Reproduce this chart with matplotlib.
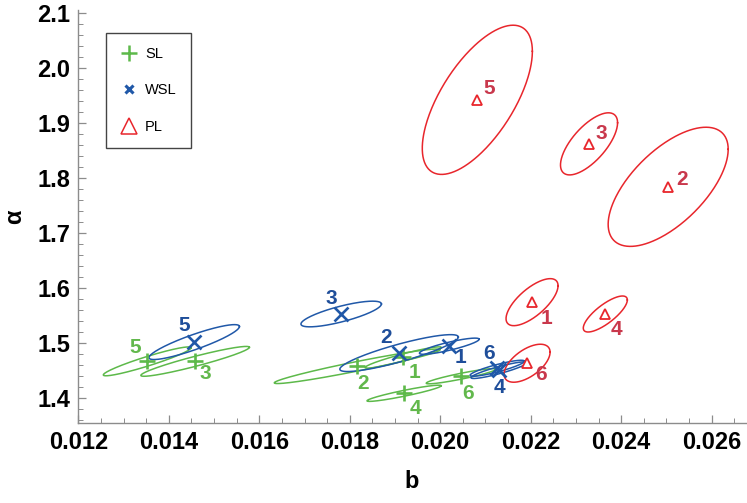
import numpy as np
import matplotlib
matplotlib.use("Agg")
import matplotlib.pyplot as plt
from matplotlib.ticker import MultipleLocator, FormatStrFormatter

plt.rcParams['font.family'] = ['Liberation Sans', 'DejaVu Sans']

# point estimates (b, alpha) and confidence-region extents for each model
ids = ['1', '2', '3', '4', '5', '6']

sl_b = [0.01918, 0.01816, 0.01458, 0.01920, 0.01352, 0.02046]
sl_alpha = [1.474, 1.458, 1.467, 1.409, 1.467, 1.440]
sl_sb = [0.00084, 0.00183, 0.00120, 0.00082, 0.00097, 0.00077]
sl_sa = [0.0193, 0.0313, 0.0271, 0.0147, 0.0262, 0.0138]
sl_rho = [0.94, 0.96, 0.94, 0.93, 0.94, 0.92]

wsl_b = [0.02020, 0.01909, 0.01781, 0.02130, 0.01456, 0.02126]
wsl_alpha = [1.4945, 1.482, 1.553, 1.451, 1.502, 1.4545]
wsl_sb = [0.00066, 0.00131, 0.00089, 0.00062, 0.00100, 0.00060]
wsl_sa = [0.0147, 0.0335, 0.0233, 0.0151, 0.0317, 0.0145]
wsl_rho = [0.86, 0.87, 0.78, 0.90, 0.89, 0.88]

pl_b = [0.02203, 0.02504, 0.02329, 0.02365, 0.02082, 0.02192]
pl_alpha = [1.5745, 1.784, 1.862, 1.553, 1.942, 1.4636]
pl_sb = [0.000575, 0.001327, 0.000631, 0.000487, 0.001217, 0.000509]
pl_sa = [0.0427, 0.1082, 0.0564, 0.0327, 0.1355, 0.0345]
pl_rho = [0.70, 0.63, 0.68, 0.78, 0.65, 0.58]

# label offsets in pixels (dx right, dy down)
sl_off = [(11, 15), (6, 17), (10, 12), (11, 15), (-12, -14), (7, 17)]
wsl_off = [(11, 11), (-13, -16), (-10, -16), (0, 17), (-10, -17), (-8, -15)]
pl_off = [(14, 16), (14, -7), (12, -10), (11, 15), (12, -11), (14, 11)]

green, green_txt = '#5db94a', '#62b84c'
blue, blue_txt = '#2058a8', '#1f4e9a'
red, red_txt = '#e8262c', '#c9384c'

fig = plt.figure(figsize=(7.47, 5.03), dpi=100)
ax = fig.add_axes([0.105, 0.159, 0.893, 0.821])

t = np.linspace(0, 2 * np.pi, 300)


def draw_group(bs, als, sbs, sas, rhos, offs, col, txtcol, marker, ms, mew, mfc):
    for i in range(len(bs)):
        x = bs[i] + sbs[i] * np.cos(t)
        y = als[i] + sas[i] * (rhos[i] * np.cos(t) + np.sqrt(1 - rhos[i] ** 2) * np.sin(t))
        ax.plot(x, y, color=col, lw=1.1, zorder=2)
    ax.plot(bs, als, ls='none', marker=marker, ms=ms, mew=mew, color=col,
            mfc=mfc, zorder=3)
    for i in range(len(bs)):
        ax.annotate(ids[i], (bs[i], als[i]), xytext=(offs[i][0], -offs[i][1]),
                    textcoords='offset pixels', ha='center', va='center',
                    fontsize=15, fontweight='bold', color=txtcol, zorder=4)


draw_group(sl_b, sl_alpha, sl_sb, sl_sa, sl_rho, sl_off, green, green_txt, '+', 12, 1.9, green)
draw_group(wsl_b, wsl_alpha, wsl_sb, wsl_sa, wsl_rho, wsl_off, blue, blue_txt, 'x', 10, 1.9, blue)
draw_group(pl_b, pl_alpha, pl_sb, pl_sa, pl_rho, pl_off, red, red_txt, '^', 7.5, 1.3, 'white')

ax.set_xlim(0.012, 0.02675)
ax.set_ylim(1.355, 2.105)
ax.xaxis.set_major_locator(MultipleLocator(0.002))
ax.xaxis.set_minor_locator(MultipleLocator(0.0005))
ax.yaxis.set_major_locator(MultipleLocator(0.1))
ax.yaxis.set_minor_locator(MultipleLocator(0.02))
ax.xaxis.set_major_formatter(FormatStrFormatter('%.3f'))
ax.yaxis.set_major_formatter(FormatStrFormatter('%.1f'))

for s in ['top', 'right']:
    ax.spines[s].set_visible(False)
for s in ['left', 'bottom']:
    ax.spines[s].set_color('#8c8c8c')
    ax.spines[s].set_linewidth(1.0)
ax.tick_params(which='both', direction='in', color='#8c8c8c')
ax.tick_params(which='major', length=6, width=0.9, labelsize=17, pad=6)
ax.tick_params(which='minor', length=3.5, width=0.7)
for lab in ax.get_xticklabels() + ax.get_yticklabels():
    lab.set_fontweight('bold')

ax.set_xlabel('b', fontsize=17, fontweight='bold', labelpad=11)
ax.set_ylabel('α', fontsize=17, fontweight='bold', labelpad=8)

h1, = ax.plot([], [], ls='none', marker='+', ms=11, mew=1.8, color=green)
h2, = ax.plot([], [], ls='none', marker='x', ms=6, mew=2.2, color=blue)
h3, = ax.plot([], [], ls='none', marker='^', ms=12, mew=1.1, color=red, mfc='white')
leg = ax.legend([h1, h2, h3], ['SL', 'WSL', 'PL'], loc='upper left',
                bbox_to_anchor=(0.042, 0.945), fancybox=False, framealpha=1,
                edgecolor='#444444', labelspacing=1.55, borderpad=0.95,
                handletextpad=0.5, handlelength=1.2, borderaxespad=0,
                fontsize=10.5)
leg.get_frame().set_linewidth(1.0)

fig.savefig('out.png', dpi=100)
